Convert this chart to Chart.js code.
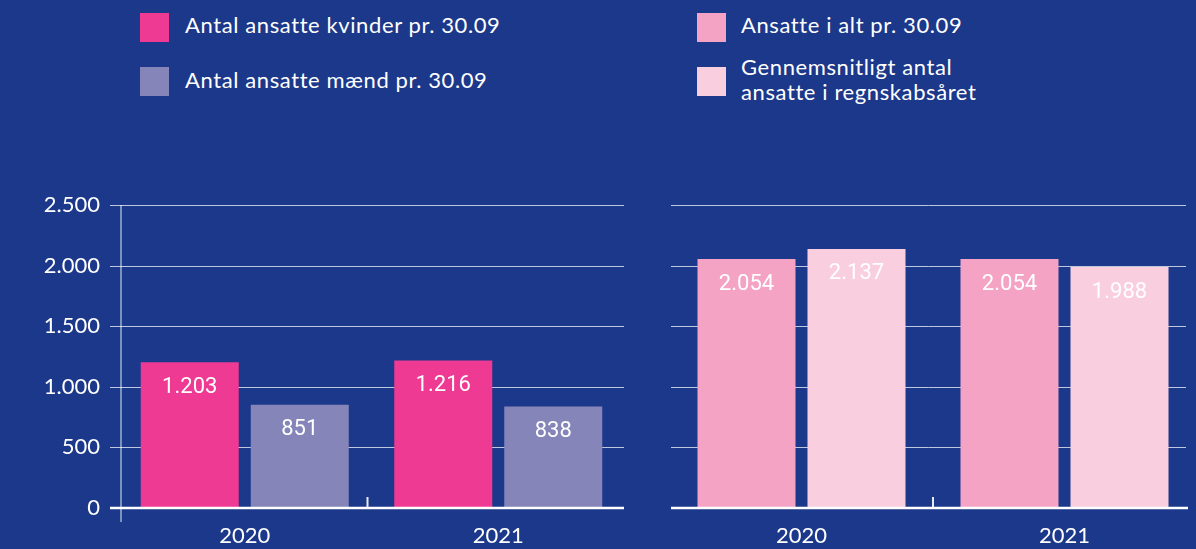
<!DOCTYPE html>
<html><head><meta charset="utf-8">
<script src="https://cdn.jsdelivr.net/npm/chart.js@4"></script>
<style>
html,body{margin:0;padding:0;background:#1c388a;width:1196px;height:549px;overflow:hidden;font-family:Lato,"Noto Sans",sans-serif;}
canvas{position:absolute;top:0;}
#c1{left:0;}
#c2{left:640px;}
.sw{position:absolute;width:29px;height:29px;}
.lt{position:absolute;color:#fff;font-size:22px;letter-spacing:0.6px;line-height:25px;white-space:nowrap;}
</style></head>
<body>
<div class="sw" style="left:140px;top:13px;background:#ee3a92"></div>
<div class="lt" style="left:185px;top:12px">Antal ansatte kvinder pr. 30.09</div>
<div class="sw" style="left:140px;top:67px;background:#8585b9"></div>
<div class="lt" style="left:185px;top:67px">Antal ansatte mænd pr. 30.09</div>
<div class="sw" style="left:697px;top:13px;background:#f4a3c5"></div>
<div class="lt" style="left:741px;top:12px">Ansatte i alt pr. 30.09</div>
<div class="sw" style="left:697px;top:67px;background:#f9cfdf"></div>
<div class="lt" style="left:741px;top:54px">Gennemsnitligt antal<br>ansatte i regnskabsåret</div>
<canvas id="c1" width="640" height="549"></canvas>
<canvas id="c2" width="556" height="549"></canvas>
<script>
const categories = ['2020', '2021'];
const womenSeries = [1203, 1216];
const menSeries = [851, 838];
const totalSeries = [2054, 2054];
const avgSeries = [2137, 1988];
const yTickValues = [0, 500, 1000, 1500, 2000, 2500];

const fmt = v => String(v).replace(/\B(?=(\d{3})+(?!\d))/g, '.');
const FONT = 'Lato, "Noto Sans", sans-serif';

const deco = {
  id: 'deco',
  beforeDatasetsDraw(chart, args, o) {
    const {ctx, chartArea: a, scales: {x, y}} = chart;
    ctx.save();
    y.ticks.forEach(t => {
      if (t.value === 0) return;
      const py = Math.round(y.getPixelForValue(t.value)) + 0.5;
      ctx.strokeStyle = 'rgba(255,255,255,0.72)';
      ctx.lineWidth = 1;
      ctx.beginPath(); ctx.moveTo(o.gx0, py); ctx.lineTo(o.gx1, py); ctx.stroke();
    });
    if (o.axisX != null) {
      ctx.strokeStyle = 'rgba(255,255,255,0.6)';
      ctx.lineWidth = 1.5;
      ctx.beginPath(); ctx.moveTo(o.axisX, a.top); ctx.lineTo(o.axisX, a.bottom + 14); ctx.stroke();
    }
    ctx.restore();
  },
  afterDatasetsDraw(chart, args, o) {
    const {ctx, chartArea: a, scales: {x, y}} = chart;
    ctx.save();
    const py0 = y.getPixelForValue(0);
    ctx.strokeStyle = '#ffffff';
    ctx.lineWidth = 2.5;
    ctx.beginPath(); ctx.moveTo(o.gx0, py0); ctx.lineTo(o.zx1, py0); ctx.stroke();
    const bx = (x.getPixelForValue(0) + x.getPixelForValue(1)) / 2 + (o.tickShift || 0);
    ctx.lineWidth = 2;
    ctx.strokeStyle = 'rgba(255,255,255,0.9)';
    ctx.beginPath(); ctx.moveTo(bx, py0 - 11); ctx.lineTo(bx, py0); ctx.stroke();
    ctx.fillStyle = '#ffffff';
    ctx.font = '22px Roboto, "Noto Sans", sans-serif';
    ctx.textAlign = 'center';
    ctx.textBaseline = 'middle';
    chart.data.datasets.forEach((ds, i) => {
      chart.getDatasetMeta(i).data.forEach((el, j) => {
        ctx.fillText(fmt(ds.data[j]), el.x, el.y + 25);
      });
    });
    ctx.restore();
  }
};

function makeChart(id, datasets, opts) {
  return new Chart(document.getElementById(id), {
    type: 'bar',
    data: {labels: categories, datasets},
    plugins: [deco],
    options: {
      responsive: false, animation: false, devicePixelRatio: 1,
      layout: {padding: {left: opts.padLeft, right: opts.padRight, top: 205, bottom: 0}},
      categoryPercentage: opts.catPct,
      barPercentage: 98 / 110,
      plugins: {legend: {display: false}, tooltip: {enabled: false}, deco: opts.deco},
      scales: {
        x: {
          grid: {display: false}, border: {display: false},
          ticks: {color: '#ffffff', font: {family: FONT, size: 22}, padding: 7},
          afterFit(s) { s.height = 41; }
        },
        y: {
          min: 0, max: 2500,
          afterBuildTicks(s) { s.ticks = yTickValues.map(v => ({value: v})); },
          afterFit(s) { s.width = opts.yWidth; },
          grid: {display: false}, border: {display: false},
          ticks: {display: opts.showTicks, color: '#ffffff', font: {family: FONT, size: 22}, padding: 10, callback: v => fmt(v)}
        }
      }
    }
  });
}

makeChart('c1', [
  {label: 'Antal ansatte kvinder pr. 30.09', data: womenSeries, backgroundColor: '#ee3a92'},
  {label: 'Antal ansatte mænd pr. 30.09', data: menSeries, backgroundColor: '#8585b9'}
], {padLeft: 0, padRight: 15, yWidth: 118, showTicks: true, catPct: 220 / 253.5,
    deco: {gx0: 110, gx1: 624, zx1: 624, axisX: 121, tickShift: -4}});

makeChart('c2', [
  {label: 'Ansatte i alt pr. 30.09', data: totalSeries, backgroundColor: '#f4a3c5'},
  {label: 'Gennemsnitligt antal ansatte i regnskabsåret', data: avgSeries, backgroundColor: '#f9cfdf'}
], {padLeft: 0, padRight: 0, yWidth: 30, showTicks: false, catPct: 220 / 263,
    deco: {gx0: 31, gx1: 546, zx1: 548, axisX: null, tickShift: 0}});
</script>
</body></html>
